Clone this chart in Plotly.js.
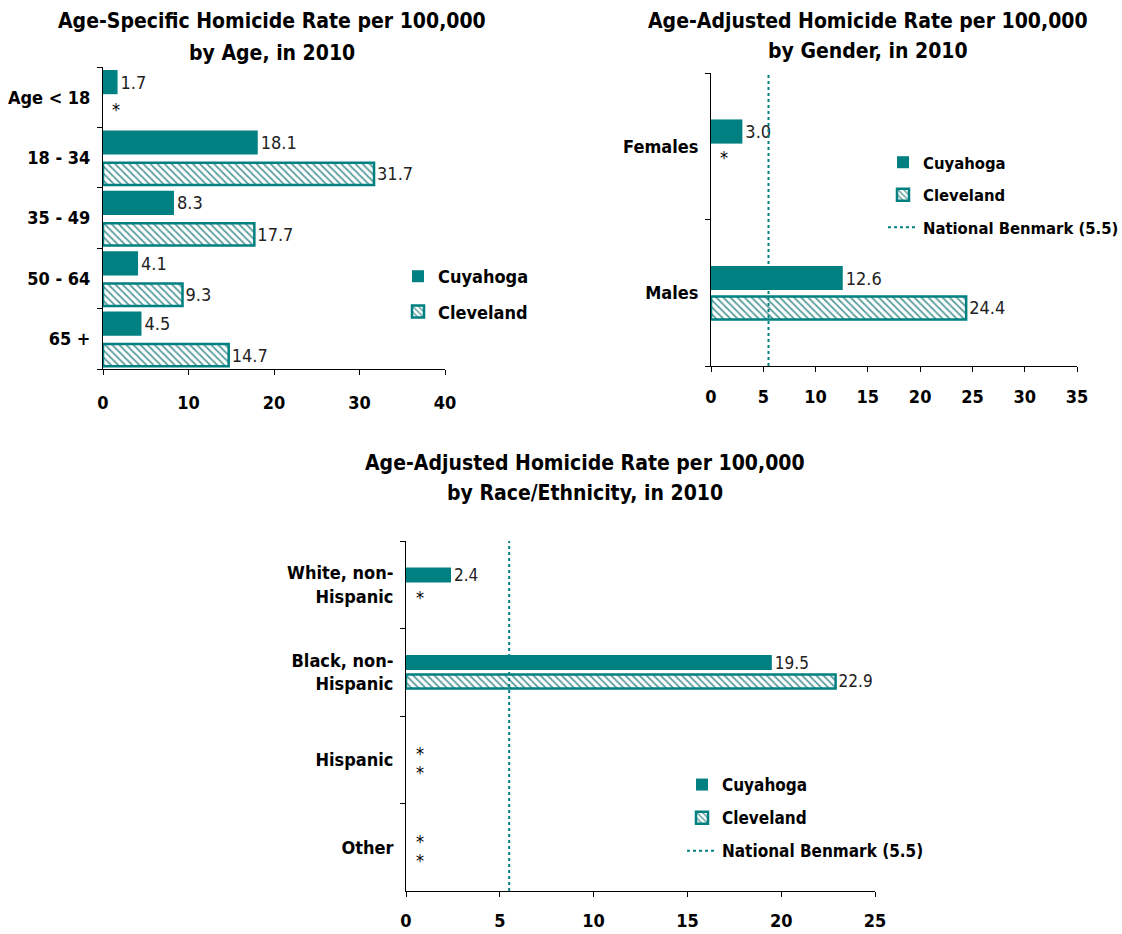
<!DOCTYPE html>
<html>
<head>
<meta charset="utf-8">
<script src="https://cdn.plot.ly/plotly-3.0.1.min.js"></script>
<style>html,body{margin:0;padding:0;background:#fff;overflow:hidden;}#chart{width:1122px;height:934px;}</style>
</head>
<body>
<div id="chart"></div>
<script>
// ---- Data ----
const ageCategories = ["Age < 18", "18 - 34", "35 - 49", "50 - 64", "65 +"];
const ageCuyahoga = [1.7, 18.1, 8.3, 4.1, 4.5];
const ageCleveland = [null, 31.7, 17.7, 9.3, 14.7];

const genderCategories = ["Females", "Males"];
const genderCuyahoga = [3.0, 12.6];
const genderCleveland = [null, 24.4];

const raceCategories = ["White, non-Hispanic", "Black, non-Hispanic", "Hispanic", "Other"];
const raceTickLabels = ["White, non-<br>Hispanic", "Black, non-<br>Hispanic", "Hispanic", "Other"];
const raceCuyahoga = [2.4, 19.5, null, null];
const raceCleveland = [null, 22.9, null, null];

const nationalBenchmark = 5.5;
const seriesNames = ["Cuyahoga", "Cleveland"];
const benchmarkName = "National Benmark (5.5)";
const suppressedMark = "*";

const titles = [
  ["Age-Specific Homicide Rate per 100,000", "by Age, in 2010"],
  ["Age-Adjusted Homicide Rate per 100,000", "by Gender, in 2010"],
  ["Age-Adjusted Homicide Rate per 100,000", "by Race/Ethnicity, in 2010"]
];

// ---- Styles ----
const TEAL = "#008080";
const FONT = "'DejaVu Sans Condensed', 'Liberation Sans', Arial, sans-serif";
const W = 1122, H = 934;
const px = v => v / W;
const py = v => 1 - v / H;

function fmt(v){ return v == null ? "" : v.toFixed(1); }

function barTrace(name, cats, vals, axes, legendId, hatched, textSize, width, offset){
  const t = {
    type: "bar", orientation: "h", name: name,
    y: cats, x: vals,
    xaxis: axes[0], yaxis: axes[1],
    width: width, offset: offset,
    legend: legendId, showlegend: true, legendgroup: name + legendId,
    text: vals.map(fmt), textposition: "outside", cliponaxis: false, constraintext: "none",
    textfont: {family: FONT, size: textSize, color: "#222"},
    hoverinfo: "x+y",
    marker: {color: TEAL, line: {color: TEAL, width: 0}}
  };
  if (hatched) {
    t.marker = {
      color: "#ffffff",
      line: {color: TEAL, width: 2.5},
      pattern: {shape: "\\", fgcolor: "#5c9e9e", bgcolor: "#ffffff", size: 5, solidity: 0.35}
    };
  }
  return t;
}

const data = [
  barTrace(seriesNames[0], ageCategories, ageCuyahoga, ["x","y"], "legend", false, 18, 0.4, -0.45),
  barTrace(seriesNames[1], ageCategories, ageCleveland, ["x","y"], "legend", true, 18, 0.37, 0.085),
  barTrace(seriesNames[0], genderCategories, genderCuyahoga, ["x2","y2"], "legend2", false, 18, 0.165, -0.183),
  barTrace(seriesNames[1], genderCategories, genderCleveland, ["x2","y2"], "legend2", true, 18, 0.157, 0.025),
  barTrace(seriesNames[0], raceCategories, raceCuyahoga, ["x3","y3"], "legend3", false, 17, 0.17, -0.196),
  barTrace(seriesNames[1], raceCategories, raceCleveland, ["x3","y3"], "legend3", true, 17, 0.16, 0.025)
];

// asterisks for suppressed values
const annotations = [];
function addStars(cats, cuy, cle, xref, yref, shifts, xshift, size){
  cats.forEach((c, i) => {
    if (cuy[i] == null) annotations.push({x: 0, y: c, xref: xref, yref: yref, text: suppressedMark, showarrow: false,
      xanchor: "left", xshift: xshift, yshift: shifts[0], font: {family: FONT, size: size, color: "#000"}});
    if (cle[i] == null) annotations.push({x: 0, y: c, xref: xref, yref: yref, text: suppressedMark, showarrow: false,
      xanchor: "left", xshift: xshift, yshift: shifts[1], font: {family: FONT, size: size, color: "#000"}});
  });
}
addStars(ageCategories, ageCuyahoga, ageCleveland, "x", "y", [4, -12], 7, 18);
addStars(genderCategories, genderCuyahoga, genderCleveland, "x2", "y2", [4, -11], 7, 18);
addStars(raceCategories, raceCuyahoga, raceCleveland, "x3", "y3", [6, -13], 8, 18);

// titles (each line placed separately to reproduce the wider line spacing)
const titleCenters = [272, 868, 585];
const titleLineY = [[21, 53], [21, 51], [463, 493]];
titles.forEach((lines, i) => {
  lines.forEach((line, j) => {
    annotations.push({text: line, xref: "paper", yref: "paper", x: px(titleCenters[i]), y: py(titleLineY[i][j]),
      xanchor: "center", yanchor: "middle", showarrow: false,
      font: {family: FONT, size: 21, color: "#000", weight: "bold"}});
  });
});

function xAxis(domain, range, dtick, anchor, standoff){
  return {domain: domain, range: range, dtick: dtick, anchor: anchor, automargin: false,
    showline: true, linecolor: "#000", linewidth: 1, ticks: "outside", ticklen: 5, tickcolor: "#000",
    showgrid: false, zeroline: false, fixedrange: true, ticklabelstandoff: standoff,
    tickfont: {family: FONT, size: 18, color: "#000", weight: "bold"}};
}
function yAxis(domain, anchor, cats, ticktext){
  return {domain: domain, anchor: anchor, type: "category", autorange: "reversed", automargin: false,
    categoryorder: "array", categoryarray: cats,
    tickmode: "array", tickvals: cats, ticktext: ticktext || cats,
    showline: true, linecolor: "#000", linewidth: 1, ticks: "outside", ticklen: 5, tickcolor: "#000",
    tickson: "boundaries", showgrid: false, zeroline: false, fixedrange: true, ticklabelstandoff: 8,
    tickfont: {family: FONT, size: 18, color: "#000", weight: "bold"}};
}

const lf = size => ({family: FONT, size: size, color: "#000", weight: "bold"});

const layout = {
  width: W, height: H,
  margin: {l: 0, r: 0, t: 0, b: 0, autoexpand: false},
  paper_bgcolor: "#fff", plot_bgcolor: "#fff",
  barmode: "group",
  showlegend: true,
  xaxis: xAxis([px(103), px(445)], [0, 40], 10, "y", 12),
  yaxis: yAxis([py(369), py(67)], "x", ageCategories),
  xaxis2: xAxis([px(711), px(1077)], [0, 35], 5, "y2", 9),
  yaxis2: yAxis([py(366), py(73)], "x2", genderCategories),
  xaxis3: xAxis([px(406), px(875)], [0, 25], 5, "y3", 8),
  yaxis3: yAxis([py(891), py(541)], "x3", raceCategories, raceTickLabels),
  legend: {x: px(398), y: py(258), xanchor: "left", yanchor: "top", font: lf(18),
    bgcolor: "rgba(0,0,0,0)", traceorder: "grouped", tracegroupgap: 9},
  legend2: {x: px(883), y: py(145), xanchor: "left", yanchor: "top", font: lf(16.5),
    bgcolor: "rgba(0,0,0,0)", traceorder: "grouped", tracegroupgap: 8},
  legend3: {x: px(682), y: py(767), xanchor: "left", yanchor: "top", font: lf(17),
    bgcolor: "rgba(0,0,0,0)", traceorder: "grouped", tracegroupgap: 8},
  shapes: [
    {type: "line", xref: "x2", yref: "y2 domain", x0: nationalBenchmark, x1: nationalBenchmark, y0: 0, y1: 1,
      line: {color: TEAL, width: 2, dash: "3px,3px"}, showlegend: true, legend: "legend2", name: benchmarkName, legendgroup: "bm2"},
    {type: "line", xref: "x3", yref: "y3 domain", x0: nationalBenchmark, x1: nationalBenchmark, y0: 0, y1: 1,
      line: {color: TEAL, width: 2, dash: "3px,3px"}, showlegend: true, legend: "legend3", name: benchmarkName, legendgroup: "bm3"}
  ],
  annotations: annotations
};

Plotly.newPlot("chart", data, layout, {displayModeBar: false, staticPlot: true});
</script>
</body>
</html>
